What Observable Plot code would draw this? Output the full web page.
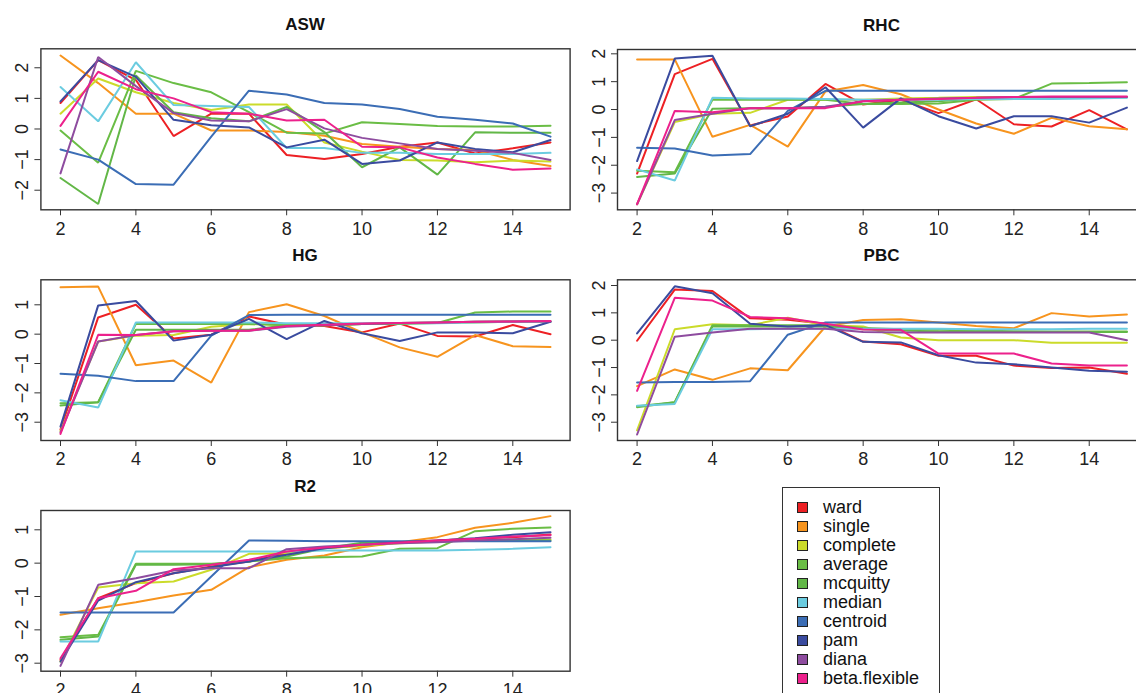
<!DOCTYPE html>
<html>
<head>
<meta charset="utf-8">
<script src="https://cdn.jsdelivr.net/npm/d3@7"></script>
<script src="https://cdn.jsdelivr.net/npm/@observablehq/plot@0.6"></script>
<style>
html, body { margin: 0; padding: 0; background: #fff; }
#chart { position: relative; width: 1136px; height: 693px; overflow: hidden; background: #fff;
  font-family: "Liberation Sans", Arial, Helvetica, sans-serif; }
#chart svg { position: absolute; left: 0; top: 0; }
.ptitle { position: absolute; font-weight: bold; font-size: 17px; color: #111;
  transform: translate(-50%, -50%); white-space: nowrap; line-height: 1; }
#legend { position: absolute; left: 782px; top: 487px; width: 158px; height: 260px;
  border: 1px solid #333; box-sizing: border-box; background: #fff; }
.li { position: absolute; left: 14px; height: 20px; display: flex; align-items: center;
  font-size: 18px; color: #111; transform: translateY(-50%); white-space: nowrap; }
.sw { width: 11px; height: 11px; border: 1px solid #222; box-sizing: border-box; margin-right: 15px; }
</style>
</head>
<body>
<div id="chart"></div>
<script>
// ---- data ----
const methods = ["ward", "single", "complete", "average", "mcquitty", "median", "centroid", "pam", "diana", "beta.flexible"];
const colors  = ["#ed2024", "#f7941e", "#cbdb2a", "#6abd45", "#62b747", "#6bcce0", "#3b6db5", "#3a4b9f", "#8e4c9f", "#ec218c"];
const ks = [2, 3, 4, 5, 6, 7, 8, 9, 10, 11, 12, 13, 14, 15];
const xTicks = [2, 4, 6, 8, 10, 12, 14];

// values per method, in the order of `methods`
const ASW = [
  [0.85, 2.25, 1.6, -0.23, 0.5, 0.5, -0.85, -0.98, -0.82, -0.58, -0.44, -0.8, -0.63, -0.44],
  [2.4, 1.5, 0.5, 0.5, -0.05, -0.05, -0.1, -0.22, -0.49, -0.58, -0.65, -0.69, -1.01, -1.21],
  [0.5, 1.65, 1.2, 0.85, 0.62, 0.8, 0.8, -0.44, -0.74, -1.01, -1.03, -1.09, -1.03, -1.06],
  [-0.05, -1.1, 1.9, 1.5, 1.2, 0.55, -0.12, -0.15, 0.22, 0.16, 0.1, 0.08, 0.08, 0.11],
  [-1.6, -2.45, 1.75, 0.55, 0.35, 0.25, 0.72, -0.1, -1.25, -0.6, -1.49, -0.11, -0.12, -0.12],
  [1.37, 0.25, 2.18, 0.78, 0.75, 0.72, -0.62, -0.62, -0.78, -0.78, -0.82, -0.82, -0.82, -0.78],
  [-0.67, -1.0, -1.8, -1.82, -0.25, 1.25, 1.13, 0.85, 0.8, 0.65, 0.4, 0.3, 0.18, -0.25],
  [0.9, 2.25, 1.7, 0.3, 0.12, 0.05, -0.6, -0.35, -1.14, -1.03, -0.44, -0.65, -0.76, -0.36],
  [-1.45, 2.35, 1.4, 0.52, 0.28, 0.25, 0.65, 0.02, -0.29, -0.47, -0.65, -0.71, -0.78, -1.01],
  [0.1, 1.87, 1.3, 1.0, 0.55, 0.5, 0.28, 0.3, -0.58, -0.6, -0.93, -1.14, -1.33, -1.29]
];
const RHC = [
  [-2.3, 1.27, 1.82, -0.57, -0.25, 0.92, 0.18, 0.35, -0.13, 0.37, -0.53, -0.61, -0.02, -0.71],
  [1.8, 1.8, -0.98, -0.55, -1.33, 0.65, 0.88, 0.55, 0.0, -0.5, -0.87, -0.3, -0.6, -0.71],
  [-3.4, -0.45, -0.15, -0.12, 0.35, 0.35, 0.35, 0.4, 0.42, 0.45, 0.45, 0.45, 0.45, 0.45],
  [-2.2, -2.25, 0.35, 0.35, 0.35, 0.35, 0.2, 0.2, 0.22, 0.35, 0.38, 0.93, 0.95, 0.98],
  [-2.42, -2.3, 0.03, 0.05, 0.05, 0.1, 0.2, 0.25, 0.3, 0.4, 0.42, 0.42, 0.44, 0.44],
  [-2.15, -2.55, 0.42, 0.4, 0.4, 0.38, 0.35, 0.35, 0.35, 0.38, 0.38, 0.38, 0.4, 0.42],
  [-1.37, -1.4, -1.65, -1.6, -0.05, 0.67, 0.67, 0.67, 0.67, 0.67, 0.67, 0.67, 0.67, 0.67],
  [-1.85, 1.83, 1.93, -0.6, -0.15, 0.8, -0.65, 0.4, -0.24, -0.68, -0.24, -0.24, -0.47, 0.07],
  [-3.4, -0.38, -0.15, 0.05, 0.05, 0.1, 0.3, 0.35, 0.4, 0.42, 0.45, 0.45, 0.45, 0.45],
  [-3.4, -0.05, -0.1, 0.05, 0.05, 0.05, 0.3, 0.35, 0.38, 0.42, 0.45, 0.47, 0.47, 0.47]
];
const HG = [
  [-3.25, 0.57, 1.0, -0.15, -0.02, 0.6, 0.32, 0.28, 0.06, 0.36, -0.06, -0.08, 0.31, 0.0],
  [1.6, 1.62, -1.06, -0.9, -1.65, 0.75, 1.02, 0.62, 0.06, -0.45, -0.77, -0.03, -0.41, -0.44],
  [-3.3, -0.25, -0.05, -0.03, 0.25, 0.35, 0.3, 0.3, 0.35, 0.38, 0.38, 0.4, 0.42, 0.43],
  [-2.35, -2.32, 0.35, 0.35, 0.35, 0.35, 0.3, 0.3, 0.35, 0.35, 0.38, 0.74, 0.77, 0.77],
  [-2.43, -2.32, 0.15, 0.15, 0.15, 0.15, 0.3, 0.32, 0.35, 0.38, 0.4, 0.42, 0.43, 0.43],
  [-2.25, -2.5, 0.4, 0.4, 0.4, 0.4, 0.37, 0.37, 0.37, 0.37, 0.37, 0.4, 0.42, 0.43],
  [-1.35, -1.42, -1.6, -1.6, -0.05, 0.65, 0.66, 0.66, 0.66, 0.66, 0.66, 0.66, 0.66, 0.66],
  [-3.15, 0.98, 1.13, -0.22, -0.02, 0.52, -0.17, 0.45, 0.03, -0.23, 0.06, 0.06, 0.03, 0.42],
  [-3.35, -0.25, -0.03, 0.1, 0.12, 0.12, 0.25, 0.3, 0.35, 0.38, 0.4, 0.42, 0.43, 0.43],
  [-3.4, -0.02, -0.03, 0.1, 0.12, 0.12, 0.28, 0.32, 0.36, 0.38, 0.4, 0.42, 0.43, 0.45]
];
const PBC = [
  [-0.02, 1.85, 1.8, 0.8, 0.75, 0.6, -0.05, -0.15, -0.57, -0.57, -0.93, -1.02, -1.0, -1.23],
  [-1.68, -1.07, -1.45, -1.03, -1.1, 0.5, 0.74, 0.77, 0.65, 0.52, 0.44, 0.99, 0.87, 0.94],
  [-3.3, 0.4, 0.58, 0.55, 0.82, 0.55, 0.5, 0.1, 0.0, 0.0, 0.0, -0.09, -0.09, -0.09],
  [-2.45, -2.27, 0.55, 0.55, 0.55, 0.55, 0.45, 0.4, 0.38, 0.35, 0.33, 0.32, 0.32, 0.32],
  [-2.42, -2.27, 0.5, 0.5, 0.5, 0.5, 0.4, 0.35, 0.32, 0.3, 0.3, 0.3, 0.3, 0.3],
  [-2.4, -2.33, 0.4, 0.4, 0.42, 0.42, 0.42, 0.42, 0.42, 0.4, 0.4, 0.4, 0.42, 0.42],
  [-1.55, -1.53, -1.53, -1.5, 0.2, 0.65, 0.65, 0.65, 0.65, 0.65, 0.65, 0.65, 0.65, 0.65],
  [0.25, 1.97, 1.72, 0.6, 0.5, 0.55, -0.06, -0.08, -0.55, -0.82, -0.88, -1.0, -1.12, -1.15],
  [-3.45, 0.13, 0.28, 0.42, 0.42, 0.42, 0.3, 0.28, 0.28, 0.28, 0.28, 0.28, 0.28, 0.0],
  [-1.85, 1.55, 1.45, 0.85, 0.8, 0.6, 0.39, 0.38, -0.49, -0.49, -0.49, -0.85, -0.93, -0.93]
];
const R2 = [
  [-2.9, -1.05, -0.6, -0.3, -0.1, 0.05, 0.3, 0.45, 0.53, 0.62, 0.68, 0.73, 0.78, 0.86],
  [-1.55, -1.35, -1.17, -0.97, -0.8, -0.12, 0.1, 0.23, 0.48, 0.63, 0.78, 1.06, 1.21, 1.41],
  [-2.95, -0.73, -0.6, -0.55, -0.2, 0.28, 0.3, 0.45, 0.52, 0.6, 0.65, 0.68, 0.7, 0.71],
  [-2.22, -2.15, -0.02, -0.02, -0.02, 0.05, 0.15, 0.18, 0.2, 0.43, 0.45, 0.96, 1.03, 1.07],
  [-2.3, -2.2, -0.05, -0.05, -0.03, 0.05, 0.2, 0.45, 0.61, 0.62, 0.66, 0.68, 0.68, 0.68],
  [-2.35, -2.35, 0.35, 0.35, 0.35, 0.35, 0.35, 0.38, 0.38, 0.38, 0.38, 0.4, 0.43, 0.48],
  [-1.48, -1.48, -1.48, -1.48, -0.4, 0.68, 0.67, 0.66, 0.66, 0.66, 0.66, 0.66, 0.66, 0.66],
  [-2.95, -1.12, -0.57, -0.3, -0.12, 0.05, 0.25, 0.45, 0.55, 0.63, 0.68, 0.75, 0.85, 0.93],
  [-3.08, -0.65, -0.45, -0.22, -0.15, -0.15, 0.42, 0.5, 0.55, 0.6, 0.63, 0.68, 0.72, 0.76],
  [-2.85, -1.05, -0.83, -0.18, -0.05, 0.1, 0.35, 0.47, 0.55, 0.62, 0.68, 0.73, 0.8, 0.84]
];

// ---- layout (scale configuration) ----
const xDomain = [1.48, 15.52];
const panels = [
  {title: "ASW", values: ASW, box: [40.4, 569.6, 48.3, 209.3], yDomain: [-2.64, 2.62], yTicks: [-2, -1, 0, 1, 2]},
  {title: "RHC", values: RHC, box: [617, 1146, 49, 209.3], yDomain: [-3.60, 2.155], yTicks: [-3, -2, -1, 0, 1, 2]},
  {title: "HG",  values: HG,  box: [40.4, 569.6, 279.3, 440], yDomain: [-3.623, 1.852], yTicks: [-3, -2, -1, 0, 1]},
  {title: "PBC", values: PBC, box: [617, 1146, 279.3, 440], yDomain: [-3.669, 2.209], yTicks: [-3, -2, -1, 0, 1, 2]},
  {title: "R2",  values: R2,  box: [40.4, 569.6, 510, 670.7], yDomain: [-3.24, 1.579], yTicks: [-3, -2, -1, 0, 1]}
];

const intFmt = d => (d < 0 ? "\u2212" + (-d) : String(d));

const chart = document.getElementById("chart");
const W = 1170, H = 730;
const font = '"Liberation Sans", Arial, Helvetica, sans-serif';

for (const p of panels) {
  const rows = [];
  methods.forEach((m, i) => ks.forEach((k, j) => rows.push({method: m, k, v: p.values[i][j]})));
  const [x0, x1, y0, y1] = p.box;
  const svg = Plot.plot({
    width: W, height: H,
    marginLeft: x0, marginRight: W - x1, marginTop: y0, marginBottom: H - y1,
    x: {domain: xDomain},
    y: {domain: p.yDomain},
    color: {domain: methods, range: colors},
    style: {background: "transparent", maxWidth: "none", fontFamily: font, fontSize: "18px", color: "#222", overflow: "visible"},
    marks: [
      Plot.line(rows, {x: "k", y: "v", z: "method", stroke: "method", strokeWidth: 2, strokeLinejoin: "miter"}),
      Plot.frame({stroke: "#333", strokeWidth: 1.4}),
      Plot.axisX({ticks: xTicks, tickFormat: intFmt, tickSize: 6, tickPadding: 6, fontSize: 18, label: null, stroke: "#333", fill: "#222"}),
      Plot.axisY({ticks: p.yTicks, tickFormat: intFmt, tickSize: 6, tickPadding: 7, tickRotate: -90, fontSize: 18, label: null, stroke: "#333", fill: "#222"})
    ]
  });
  chart.appendChild(svg);
  const t = document.createElement("div");
  t.className = "ptitle";
  t.textContent = p.title;
  t.style.left = ((x0 + x1) / 2) + "px";
  t.style.top = (y0 - 24) + "px";
  chart.appendChild(t);
}

// legend
const legend = document.createElement("div");
legend.id = "legend";
methods.forEach((m, i) => {
  const it = document.createElement("div");
  it.className = "li";
  it.style.top = (19 + 19.1 * i) + "px";
  const sw = document.createElement("div");
  sw.className = "sw";
  sw.style.background = colors[i];
  const tx = document.createElement("span");
  tx.textContent = m;
  it.appendChild(sw); it.appendChild(tx);
  legend.appendChild(it);
});
chart.appendChild(legend);
</script>
</body>
</html>
